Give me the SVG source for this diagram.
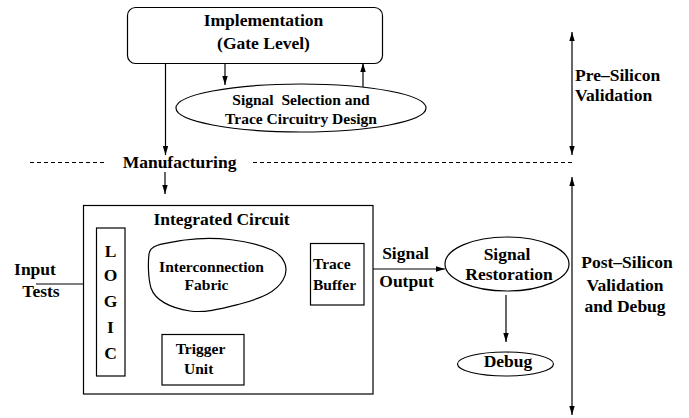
<svg xmlns="http://www.w3.org/2000/svg" width="689" height="418" viewBox="0 0 689 418" font-family="Liberation Serif, Times New Roman, serif" font-weight="bold">
  <defs>
    <marker id="ah" viewBox="0 0 10 6" refX="10" refY="3" markerWidth="9" markerHeight="5.4" markerUnits="userSpaceOnUse" orient="auto">
      <path d="M0,0 L10,3 L0,6 z" fill="#000"/>
    </marker>
    <marker id="ahs" viewBox="0 0 10 6" refX="0" refY="3" markerWidth="9" markerHeight="5.4" markerUnits="userSpaceOnUse" orient="auto">
      <path d="M10,0 L0,3 L10,6 z" fill="#000"/>
    </marker>
    <style>
      .t { font-family: 'Liberation Serif', 'Times New Roman', serif; font-weight: bold; fill: #000; }
      .big { font-size: 17.5px; }
      .sm { font-size: 15.5px; }
      .mid { text-anchor: middle; }
      .shape { fill: #fff; stroke: #000; stroke-width: 1.2; }
      .ln { fill: none; stroke: #000; stroke-width: 1.2; }
      .dash { fill: none; stroke: #000; stroke-width: 1; stroke-dasharray: 4 3; }
    </style>
  </defs>
  <rect width="689" height="418" fill="#fff"/>

  <!-- connectors -->
  <g id="connectors">
    <line class="ln" x1="165.5" y1="63" x2="165.5" y2="155" marker-end="url(#ah)"/>
    <line class="ln" x1="165" y1="172" x2="165" y2="194" marker-end="url(#ah)"/>
    <line class="ln" x1="225" y1="63" x2="225" y2="85" marker-end="url(#ah)"/>
    <line class="ln" x1="363" y1="87" x2="363" y2="63" marker-end="url(#ah)"/>
    <line class="ln" x1="36" y1="284" x2="96.5" y2="284" marker-end="url(#ah)"/>
    <line class="ln" x1="125" y1="281" x2="146" y2="281" marker-end="url(#ah)"/>
    <line class="ln" x1="288" y1="269" x2="310" y2="269" marker-end="url(#ah)"/>
    <line class="ln" x1="197" y1="334" x2="197" y2="312" marker-end="url(#ah)"/>
    <line class="ln" x1="364" y1="269" x2="445" y2="269" marker-end="url(#ah)"/>
    <line class="ln" x1="506" y1="295" x2="506" y2="342" marker-end="url(#ah)"/>
    <!-- phase separators -->
    <line class="dash" x1="30" y1="162.5" x2="104" y2="162.5"/>
    <line class="dash" x1="253" y1="162.5" x2="572" y2="162.5"/>
    <line class="ln" x1="572" y1="32" x2="572" y2="155" marker-start="url(#ahs)" marker-end="url(#ah)"/>
    <line class="ln" x1="572" y1="177" x2="572" y2="415" marker-start="url(#ahs)" marker-end="url(#ah)"/>
  </g>

  <g id="implementation">
    <rect class="shape" x="127.5" y="7.5" width="255" height="56" rx="8"/>
    <text class="t big mid" x="263.5" y="26">Implementation</text>
    <text class="t big mid" x="263.5" y="48.5">(Gate Level)</text>
  </g>

  <g id="signal-selection">
    <ellipse class="shape" cx="301" cy="108" rx="125" ry="24"/>
    <text class="t sm mid" x="301" y="105" xml:space="preserve">Signal  Selection and</text>
    <text class="t sm mid" x="301" y="123.5">Trace Circuitry Design</text>
  </g>

  <g id="manufacturing">
    <text class="t big mid" x="179.5" y="168">Manufacturing</text>
  </g>

  <g id="integrated-circuit">
    <rect class="shape" x="83.5" y="205.5" width="289.5" height="188.5"/>
    <text class="t big mid" x="221.5" y="225">Integrated Circuit</text>
  </g>

  <g id="logic">
    <rect class="shape" x="96.5" y="228" width="28.5" height="148"/>
    <text class="t big mid" x="110.5" y="256.5">L</text>
    <text class="t big mid" x="110.5" y="281">O</text>
    <text class="t big mid" x="110.5" y="307">G</text>
    <text class="t big mid" x="110.5" y="332.5">I</text>
    <text class="t big mid" x="110.5" y="359">C</text>
  </g>

  <g id="fabric">
    <path class="shape" d="M149,254 C150,245 160,244 185,240 C215,236 250,240 272,250 C284,256 290,268 283,280 C276,292 262,298 240,304 C220,309 205,313 190,311 C170,308 155,300 151,288 C148,278 148,262 149,254 Z"/>
    <text class="t sm mid" x="211.5" y="271.5">Interconnection</text>
    <text class="t sm mid" x="206.5" y="290">Fabric</text>
  </g>

  <g id="trace-buffer">
    <rect class="shape" x="310.5" y="243.5" width="53.5" height="61.5"/>
    <text class="t sm" x="313" y="269">Trace</text>
    <text class="t sm" x="313" y="290">Buffer</text>
  </g>

  <g id="trigger-unit">
    <rect class="shape" x="162" y="334.5" width="82" height="50.5"/>
    <text class="t sm mid" x="200.5" y="353.5">Trigger</text>
    <text class="t sm mid" x="198.7" y="373.5">Unit</text>
  </g>

  <g id="input-tests">
    <text class="t big mid" x="35" y="275">Input</text>
    <text class="t big mid" x="41" y="297">Tests</text>
  </g>

  <g id="signal-output">
    <text class="t big mid" x="405.5" y="259">Signal</text>
    <text class="t big mid" x="406.5" y="287">Output</text>
  </g>

  <g id="signal-restoration">
    <ellipse class="shape" cx="507" cy="264" rx="62" ry="27"/>
    <text class="t big mid" x="507" y="260">Signal</text>
    <text class="t big mid" x="509" y="280">Restoration</text>
  </g>

  <g id="debug">
    <ellipse class="shape" cx="505.5" cy="364" rx="48" ry="12"/>
    <text class="t big mid" x="508" y="367">Debug</text>
  </g>

  <g id="pre-silicon">
    <text class="t big" x="575" y="81">Pre–Silicon</text>
    <text class="t big" x="575" y="101">Validation</text>
  </g>

  <g id="post-silicon">
    <text class="t big mid" x="627" y="268">Post–Silicon</text>
    <text class="t big mid" x="625" y="291">Validation</text>
    <text class="t big mid" x="625" y="312">and Debug</text>
  </g>
</svg>
